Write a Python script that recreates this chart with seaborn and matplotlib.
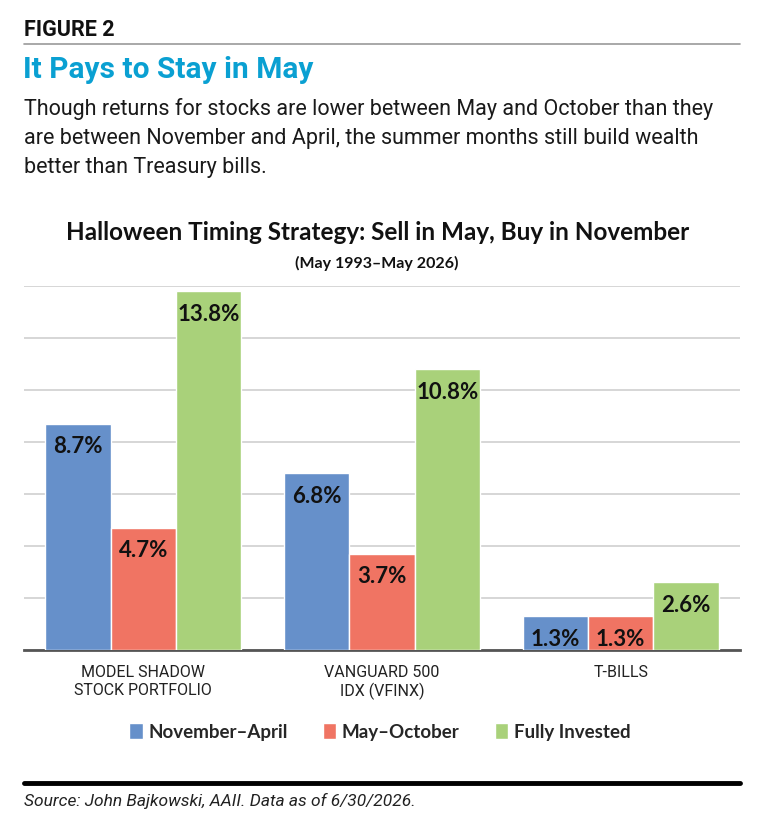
import matplotlib
matplotlib.use("Agg")
import matplotlib.pyplot as plt
import pandas as pd
import seaborn as sns
from matplotlib.lines import Line2D

# data
categories = ["MODEL SHADOW\nSTOCK PORTFOLIO", "VANGUARD 500\nIDX (VFINX)", "T-BILLS"]
periods = ["November\u2013April", "May\u2013October", "Fully Invested"]
nov_apr = [8.7, 6.8, 1.3]
may_oct = [4.7, 3.7, 1.3]
fully_invested = [13.8, 10.8, 2.6]

colors = ["#6690CA", "#F07463", "#A9D17A"]

df = pd.DataFrame({
    "category": categories * 3,
    "period": [periods[0]] * 3 + [periods[1]] * 3 + [periods[2]] * 3,
    "value": nov_apr + may_oct + fully_invested,
})

sns.set_theme(style="white")
head_font = ["Roboto", "DejaVu Sans"]
chart_font = ["Lato", "Open Sans", "DejaVu Sans"]
plt.rcParams["font.family"] = chart_font

fig = plt.figure(figsize=(7.64, 8.25), dpi=100)
W, H = 764, 825


def fy(y):
    return 1 - y / H


def fx(x):
    return x / W


# header
fig.text(fx(24), fy(30), "FIGURE 2", fontsize=15.5, fontweight="bold",
         family=head_font, va="center", ha="left", color="#111111")
fig.add_artist(Line2D([fx(24), fx(740)], [fy(44), fy(44)], color="#999999", lw=1.2))
fig.text(fx(23), fy(70), "It Pays to Stay in May", fontsize=21.5, fontweight="bold",
         family=head_font, va="center", ha="left", color="#0AA0D2")
subtitle = ("Though returns for stocks are lower between May and October than they\n"
            "are between November and April, the summer months still build wealth\n"
            "better than Treasury bills.")
fig.text(fx(24), fy(98), subtitle, fontsize=15.5, family=head_font, va="top", ha="left",
         color="#1a1a1a", linespacing=1.5)

fig.text(fx(378), fy(233), "Halloween Timing Strategy: Sell in May, Buy in November",
         fontsize=17.5, fontweight="bold", ha="center", va="center", color="#111111")
fig.text(fx(377), fy(263), "(May 1993\u2013May 2026)", fontsize=11.5, fontweight="bold",
         ha="center", va="center", color="#111111")

ax = fig.add_axes([fx(24), fy(650), fx(740) - fx(24), fy(286) - fy(650)])
sns.barplot(data=df, x="category", y="value", hue="period", hue_order=periods,
            order=categories, palette=colors, width=0.82, edgecolor="white",
            linewidth=1, saturation=1, ax=ax, legend=True, zorder=3)

ax.set_ylim(0, 14)
ax.set_xlim(-0.5, 2.5)
ax.set_yticks(range(0, 15, 2))
ax.yaxis.grid(True, color="#D0D0D0", lw=1.2, zorder=0)
ax.set_axisbelow(True)
ax.tick_params(axis="y", left=False, labelleft=False)
ax.tick_params(axis="x", bottom=False, labelsize=11.5, pad=5)
for lab in ax.get_xticklabels():
    lab.set_fontfamily(head_font)
    lab.set_color("#222222")
ax.set_xlabel("")
ax.set_ylabel("")
for s in ["top", "right", "left"]:
    ax.spines[s].set_visible(False)
ax.spines["bottom"].set_color("#555555")
ax.spines["bottom"].set_linewidth(2)

for cont in ax.containers:
    ax.bar_label(cont, labels=[f"{v:.1f}%" for v in cont.datavalues],
                 padding=-24, fontsize=16, fontweight="bold", color="#111111")

handles, labels = ax.get_legend_handles_labels()
ax.get_legend().remove()
fig.legend(handles, labels, loc="center", bbox_to_anchor=(fx(380), fy(732)),
           ncol=3, frameon=False, handlelength=0.7, handleheight=0.9,
           handletextpad=0.3, columnspacing=1.9, prop={"weight": "bold", "size": 13.5})

fig.add_artist(Line2D([fx(24), fx(740)], [fy(783), fy(783)], color="#000000", lw=3.5))
fig.text(fx(24), fy(801), "Source: John Bajkowski, AAII. Data as of 6/30/2026.",
         fontsize=12.5, style="italic", family=head_font, va="center", ha="left",
         color="#222222")

fig.savefig("out.png", dpi=100)
